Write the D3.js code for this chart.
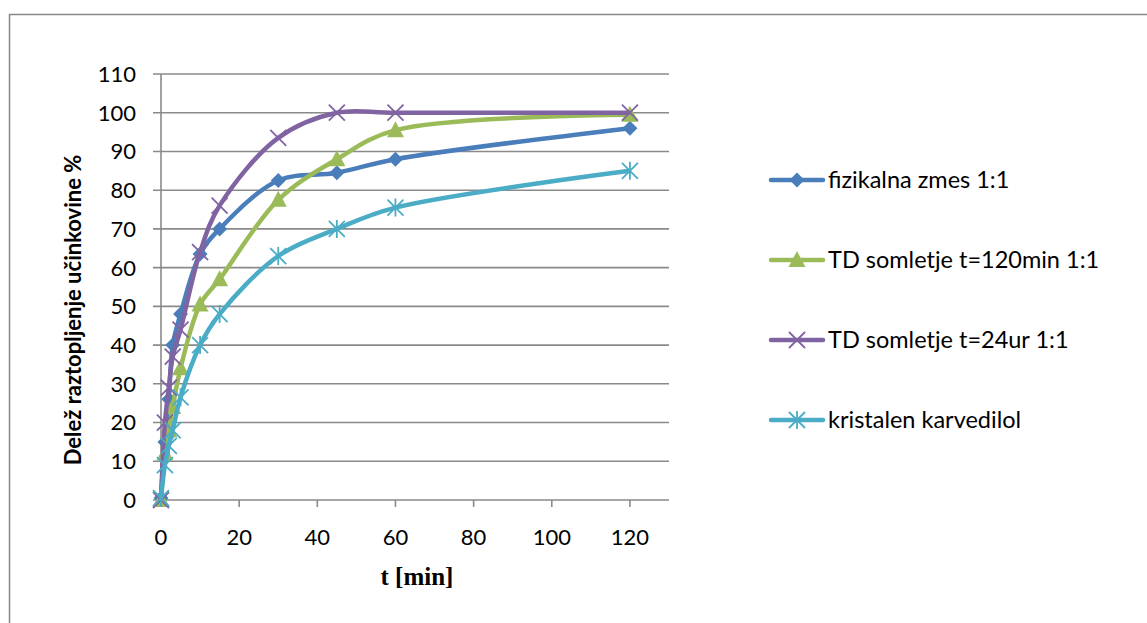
<!DOCTYPE html>
<html>
<head>
<meta charset="utf-8">
<script src="https://cdn.jsdelivr.net/npm/d3@7"></script>
<style>
  body { margin: 0; background: #fff; }
  text { font-family: Lato, "Open Sans", sans-serif; fill: #000; }
</style>
</head>
<body>
<div id="chart"></div>
<script>
//// ======================= DATA ======================= ////

var times = [0, 1, 2, 3, 5, 10, 15, 30, 45, 60, 120];
var fizikalna = [0.5, 15, 26, 40, 48, 63.5, 70, 82.5, 84.5, 88, 96];
var somlet120 = [0, 12, 18, 24, 34, 50.5, 57, 77.5, 88, 95.5, 99.5];
var somlet24 = [0, 20, 29, 37, 44, 64, 76, 93.5, 100, 100, 100];
var kristalen = [0.5, 9, 14, 18, 26.5, 40, 48, 63, 70, 75.5, 85];

var seriesNames = ["fizikalna zmes 1:1", "TD somletje t=120min 1:1", "TD somletje t=24ur 1:1", "kristalen karvedilol"];
var xTicks = [0, 20, 40, 60, 80, 100, 120];
var yTicks = [0, 10, 20, 30, 40, 50, 60, 70, 80, 90, 100, 110];

var series = [
    { name: seriesNames[0], values: fizikalna, color: "#4A7EBB", marker: "diamond" },
    { name: seriesNames[1], values: somlet120, color: "#9BBB59", marker: "triangle" },
    { name: seriesNames[2], values: somlet24, color: "#8064A2", marker: "x" },
    { name: seriesNames[3], values: kristalen, color: "#4BACC6", marker: "star" }
];

//// ======================= LAYOUT ======================= ////

var width = 1147, height = 623;
var plotLeft = 161, plotRight = 669, plotTop = 74, plotBottom = 500;

var svg = d3.select("#chart").append("svg")
    .attr("width", width)
    .attr("height", height);

svg.append("rect")
    .attr("x", 9.5).attr("y", 14.5)
    .attr("width", 1200).attr("height", 700)
    .attr("fill", "none")
    .attr("stroke", "#888")
    .attr("stroke-width", 1.5);

var x = d3.scaleLinear().domain([0, 130]).range([plotLeft, plotRight]);
var y = d3.scaleLinear().domain([0, 110]).range([plotBottom, plotTop]);

// gridlines
svg.append("g").selectAll("line")
    .data(yTicks)
    .enter().append("line")
    .attr("x1", plotLeft - 8).attr("x2", plotRight)
    .attr("y1", function(d) { return y(d); })
    .attr("y2", function(d) { return y(d); })
    .attr("stroke", "#8a8a8a")
    .attr("stroke-width", 1.6);

// y axis line
svg.append("line")
    .attr("x1", plotLeft).attr("x2", plotLeft)
    .attr("y1", plotTop).attr("y2", plotBottom)
    .attr("stroke", "#8a8a8a").attr("stroke-width", 1.6);

// x tick marks
svg.append("g").selectAll("line")
    .data(xTicks)
    .enter().append("line")
    .attr("x1", function(d) { return x(d); })
    .attr("x2", function(d) { return x(d); })
    .attr("y1", plotBottom).attr("y2", plotBottom + 7)
    .attr("stroke", "#8a8a8a").attr("stroke-width", 1.6);

svg.append("g").selectAll("text")
    .data(yTicks)
    .enter().append("text")
    .attr("x", 136)
    .attr("y", function(d) { return y(d); })
    .attr("dy", "0.36em")
    .attr("text-anchor", "end")
    .style("font-size", "22px")
    .text(function(d) { return d; });

svg.append("g").selectAll("text")
    .data(xTicks)
    .enter().append("text")
    .attr("x", function(d) { return x(d); })
    .attr("y", 545)
    .attr("text-anchor", "middle")
    .style("font-size", "22px")
    .text(function(d) { return d; });

svg.append("text")
    .attr("x", 417).attr("y", 585)
    .attr("text-anchor", "middle")
    .style("font-family", "'Liberation Serif', 'DejaVu Serif', serif")
    .style("font-weight", "bold")
    .style("font-size", "25px")
    .text("t [min]");

svg.append("text")
    .attr("transform", "translate(81,310) rotate(-90)")
    .attr("text-anchor", "middle")
    .style("font-weight", "bold")
    .style("font-size", "22px")
    .text("Delež raztopljenje učinkovine %");

//// ======================= MARKERS ======================= ////

function drawMarker(g, type, color, cx, cy) {
    if (type == "diamond") {
        var h = 7.5;
        g.append("path")
            .attr("d", "M" + cx + "," + (cy - h) + "L" + (cx + h) + "," + cy +
                "L" + cx + "," + (cy + h) + "L" + (cx - h) + "," + cy + "Z")
            .attr("fill", color);
    } else if (type == "triangle") {
        var w = 8.5;
        g.append("path")
            .attr("d", "M" + cx + "," + (cy - 9) + "L" + (cx + w) + "," + (cy + 7) +
                "L" + (cx - w) + "," + (cy + 7) + "Z")
            .attr("fill", color);
    } else if (type == "x") {
        var r = 8;
        g.append("path")
            .attr("d", "M" + (cx - r) + "," + (cy - r) + "L" + (cx + r) + "," + (cy + r) +
                "M" + (cx - r) + "," + (cy + r) + "L" + (cx + r) + "," + (cy - r))
            .attr("stroke", color).attr("stroke-width", 1.8).attr("fill", "none");
    } else {
        var r2 = 8;
        g.append("path")
            .attr("d", "M" + (cx - r2) + "," + (cy - r2) + "L" + (cx + r2) + "," + (cy + r2) +
                "M" + (cx - r2) + "," + (cy + r2) + "L" + (cx + r2) + "," + (cy - r2) +
                "M" + cx + "," + (cy - r2 - 1) + "L" + cx + "," + (cy + r2 + 1))
            .attr("stroke", color).attr("stroke-width", 1.8).attr("fill", "none");
    }
}

//// ======================= LINES ======================= ////

var line = d3.line()
    .x(function(d) { return x(d.t); })
    .y(function(d) { return y(d.v); })
    .curve(d3.curveCatmullRom.alpha(0.5));

series.forEach(function(s) {
    var pts = times.map(function(t, i) { return { t: t, v: s.values[i] }; });
    var g = svg.append("g");
    g.append("path")
        .attr("d", line(pts))
        .attr("fill", "none")
        .attr("stroke", s.color)
        .attr("stroke-width", 4.5)
        .attr("stroke-linejoin", "round");
    pts.forEach(function(p) {
        drawMarker(g, s.marker, s.color, x(p.t), y(p.v));
    });
});

//// ======================= LEGEND ======================= ////

var legendY = [180, 260, 340, 420];
series.forEach(function(s, i) {
    var g = svg.append("g");
    g.append("line")
        .attr("x1", 771).attr("x2", 823)
        .attr("y1", legendY[i]).attr("y2", legendY[i])
        .attr("stroke", s.color).attr("stroke-width", 4.5)
        .attr("stroke-linecap", "round");
    drawMarker(g, s.marker, s.color, 797, legendY[i]);
    g.append("text")
        .attr("x", 828).attr("y", legendY[i])
        .attr("dy", "0.36em")
        .style("font-size", "23.5px")
        .text(s.name);
});
</script>
</body>
</html>
